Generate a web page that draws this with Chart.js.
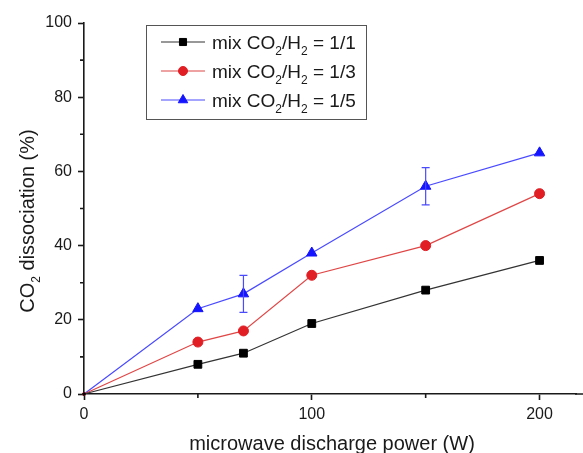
<!DOCTYPE html>
<html lang="en">
<head>
<meta charset="UTF-8">
<title>CO2 dissociation vs microwave discharge power</title>
<script src="https://cdn.jsdelivr.net/npm/chart.js"></script>
<style>
  html, body { margin: 0; padding: 0; background: #fff; }
  #wrap { width: 583px; height: 453px; }
</style>
</head>
<body>
<div id="wrap"><canvas id="chart"></canvas></div>
<script>
// data
const power = [0, 50, 70, 100, 150, 200];
const mix11 = [0, 8, 11, 19, 28, 36];
const mix13 = [0, 14, 17, 32, 40, 54];
const mix15 = [0, 23, 27, 38, 56, 65];
const mix15Err = [null, null, 5, null, 5, null];
const ratios = ['1/1', '1/3', '1/5'];
const xTicks = [0, 100, 200];
const xMinor = [50, 150];
const yTicks = [0, 20, 40, 60, 80, 100];
const yMinor = [10, 30, 50, 70, 90];

const FONT = '"Liberation Sans", Arial, sans-serif';
const INK = '#1a1a1a';

// draws text made of parts, some of them subscripts
function drawRich(ctx, parts, x, y, size, align) {
    const subSize = Math.round(size * 0.62);
    let w = 0;
    parts.forEach(p => {
        ctx.font = (p.sub ? subSize : size) + 'px ' + FONT;
        w += ctx.measureText(p.t).width;
    });
    let cx = align === 'center' ? x - w / 2 : x;
    ctx.textAlign = 'left';
    ctx.textBaseline = 'alphabetic';
    parts.forEach(p => {
        ctx.font = (p.sub ? subSize : size) + 'px ' + FONT;
        ctx.fillText(p.t, cx, y + (p.sub ? size * 0.3 : 0));
        cx += ctx.measureText(p.t).width;
    });
}

const extras = {
    id: 'extras',
    afterDatasetsDraw(chart) {
        const ctx = chart.ctx;
        const xs = chart.scales.x, ys = chart.scales.y;
        const ds = chart.data.datasets[2];

        // error bars on the 1/5 series
        ctx.save();
        ctx.strokeStyle = ds.borderColor;
        ctx.lineWidth = 1.2;
        mix15Err.forEach((e, i) => {
            if (e == null) return;
            const px = xs.getPixelForValue(power[i]);
            const top = ys.getPixelForValue(mix15[i] + e);
            const bot = ys.getPixelForValue(mix15[i] - e);
            ctx.beginPath();
            ctx.moveTo(px, top); ctx.lineTo(px, bot);
            ctx.moveTo(px - 4, top); ctx.lineTo(px + 4, top);
            ctx.moveTo(px - 4, bot); ctx.lineTo(px + 4, bot);
            ctx.stroke();
        });
        ctx.restore();
    },
    afterDraw(chart) {
        const ctx = chart.ctx;
        const xs = chart.scales.x, ys = chart.scales.y;
        const area = chart.chartArea;
        ctx.save();

        // minor ticks, and the x axis running on to the edge
        ctx.strokeStyle = INK;
        ctx.lineWidth = 1.6;
        ctx.beginPath();
        ctx.moveTo(area.right - 1, area.bottom); ctx.lineTo(chart.width, area.bottom);
        xMinor.forEach(v => {
            const px = xs.getPixelForValue(v);
            ctx.moveTo(px, area.bottom); ctx.lineTo(px, area.bottom + 4);
        });
        yMinor.forEach(v => {
            const py = ys.getPixelForValue(v);
            ctx.moveTo(area.left, py); ctx.lineTo(area.left - 4, py);
        });
        ctx.stroke();

        // axis titles
        ctx.fillStyle = INK;
        drawRich(ctx, [{t: 'microwave discharge power (W)'}],
            (area.left + area.right) / 2 + 2, 450, 20, 'center');
        ctx.save();
        ctx.translate(34, 221);
        ctx.rotate(-Math.PI / 2);
        drawRich(ctx, [{t: 'CO'}, {t: '2', sub: true}, {t: ' dissociation (%)'}], 0, 0, 20, 'center');
        ctx.restore();

        // legend
        ctx.strokeStyle = '#555';
        ctx.lineWidth = 1;
        ctx.strokeRect(146.5, 25.5, 220, 94);
        chart.data.datasets.forEach((d, i) => {
            const ry = 42 + i * 29;
            ctx.strokeStyle = d.borderColor;
            ctx.lineWidth = 1.2;
            ctx.beginPath();
            ctx.moveTo(161, ry); ctx.lineTo(205, ry);
            ctx.stroke();
            ctx.fillStyle = d.pointBackgroundColor;
            ctx.strokeStyle = d.pointBorderColor;
            ctx.lineWidth = 1;
            Chart.helpers.drawPoint(ctx, {
                pointStyle: d.pointStyle, radius: d.legendRadius - 0.5, rotation: 0, borderWidth: 1
            }, 183, ry);
            ctx.fillStyle = INK;
            drawRich(ctx, [{t: 'mix CO'}, {t: '2', sub: true}, {t: '/H'}, {t: '2', sub: true},
                {t: ' = ' + ratios[i]}], 212, ry + 7, 19, 'left');
        });
        ctx.restore();
    }
};

function series(data, line, fill, style, r) {
    return {
        label: 'mix CO2/H2',
        data: power.map((p, i) => ({x: p, y: data[i]})),
        borderColor: line,
        borderWidth: 1.2,
        pointStyle: style,
        pointRadius: c => c.dataIndex === 0 ? 1.5 : r,
        legendRadius: r,
        pointBackgroundColor: fill,
        pointBorderColor: fill,
        pointBorderWidth: 1,
        tension: 0,
        clip: false
    };
}

const datasets = [
    series(mix11, '#333333', '#000000', 'rect', 5.5),
    series(mix13, '#e04646', '#e01e24', 'circle', 5),
    series(mix15, '#4a4aff', '#1414ff', 'triangle', 6)
];

new Chart(document.getElementById('chart'), {
    type: 'line',
    data: { datasets: datasets },
    options: {
        responsive: true,
        maintainAspectRatio: false,
        animation: false,
        layout: { padding: { top: 23, right: 0, bottom: 0, left: 0 } },
        plugins: { legend: { display: false }, tooltip: { enabled: false } },
        scales: {
            x: {
                type: 'linear',
                min: 0,
                max: 216,
                afterBuildTicks: s => { s.ticks = xTicks.map(v => ({value: v})); },
                afterFit: s => { s.height = 59; },
                border: { color: INK, width: 1.6 },
                grid: { drawOnChartArea: false, drawTicks: true, tickLength: 6, tickColor: INK, tickWidth: 1.6 },
                ticks: { color: INK, padding: 5, font: { family: FONT, size: 16 } }
            },
            y: {
                type: 'linear',
                min: 0,
                max: 100,
                afterBuildTicks: s => { s.ticks = yTicks.map(v => ({value: v})); },
                afterFit: s => { s.width = 84; },
                border: { color: INK, width: 1.6 },
                grid: { drawOnChartArea: false, drawTicks: true, tickLength: 6, tickColor: INK, tickWidth: 1.6 },
                ticks: { color: INK, padding: 6, font: { family: FONT, size: 16 } }
            }
        }
    },
    plugins: [extras]
});
</script>
</body>
</html>
